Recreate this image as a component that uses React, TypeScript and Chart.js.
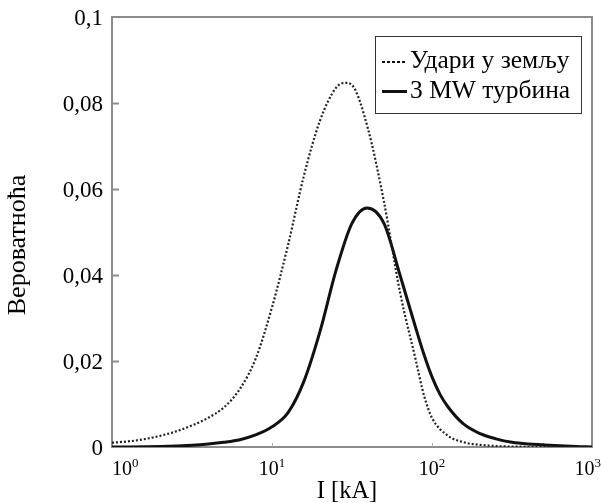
import React, { useEffect, useRef } from "react";
import { Chart, registerables } from "chart.js";

Chart.register(...registerables);

// Lightning peak current I [kA] and probability density
const strikeCurrent = [1, 1.26, 1.58, 2, 2.5, 3.16, 4, 5, 6.3, 7.9, 10, 12.6, 15.8, 20, 25.1, 28.8, 31.6, 39.8, 50.1, 63.1, 79.4, 89.1, 100, 126, 158, 200, 316, 1000];
const strikeProb = [0.001, 0.0013, 0.0018, 0.0026, 0.0036, 0.005, 0.0068, 0.0092, 0.0135, 0.0205, 0.0325, 0.047, 0.063, 0.076, 0.0835, 0.0847, 0.0842, 0.074, 0.057, 0.036, 0.02, 0.012, 0.0068, 0.0026, 0.0011, 0.0005, 0.0001, 0];

const turbineCurrent = [1, 2, 3.16, 4, 5, 6.3, 7.9, 10, 12.6, 15.8, 20, 25.1, 31.6, 39.3, 50.1, 63.1, 79.4, 89.1, 100, 112, 126, 158, 200, 251, 316, 398, 501, 631, 794, 1000];
const turbineProb = [0, 0.0001, 0.0004, 0.0007, 0.0011, 0.0017, 0.0028, 0.0047, 0.008, 0.0152, 0.027, 0.041, 0.052, 0.0556, 0.052, 0.04, 0.0275, 0.0215, 0.0163, 0.0123, 0.0093, 0.0053, 0.0031, 0.0019, 0.0011, 0.0007, 0.0005, 0.0003, 0.0001, 0];

const seriesNames = ["Удари у земљу", "3 MW турбина"];
const yTicks = [0, 0.02, 0.04, 0.06, 0.08, 0.1];
const yTickLabels = ["0", "0,02", "0,04", "0,06", "0,08", "0,1"];
const xTicks = [1, 10, 100, 1000];
const xTickExponents = ["0", "1", "2", "3"];
const xTitle = "I [kA]";
const yTitle = "Вероватноћа";

const SERIF = '"Liberation Serif", "Times New Roman", serif';
const AXIS_GRAY = "#8c8c8c";

const decorPlugin = {
  id: "decor",
  beforeDatasetsDraw(chart: any) {
    const { ctx, chartArea: a, scales } = chart;
    const x = scales.x;
    const y = scales.y;
    ctx.save();
    // plot frame
    ctx.strokeStyle = AXIS_GRAY;
    ctx.lineWidth = 2;
    ctx.strokeRect(a.left, a.top, a.right - a.left, a.bottom - a.top);
    // inward ticks on y
    ctx.beginPath();
    yTicks.forEach((v) => {
      if (v === 0 || v === 0.1) return;
      const py = Math.round(y.getPixelForValue(v)) + 0.5;
      ctx.moveTo(a.left, py);
      ctx.lineTo(a.left + 7, py);
    });
    ctx.stroke();
    // inward ticks on x
    ctx.lineWidth = 1;
    ctx.strokeStyle = "#b0b0b0";
    ctx.beginPath();
    xTicks.forEach((v) => {
      if (v === 1 || v === 1000) return;
      const px = Math.round(x.getPixelForValue(v)) + 0.5;
      ctx.moveTo(px, a.bottom);
      ctx.lineTo(px, a.bottom - 4);
    });
    ctx.stroke();
    ctx.restore();
  },
  afterDraw(chart: any) {
    const { ctx, chartArea: a, scales, width } = chart;
    const x = scales.x;
    const y = scales.y;
    ctx.save();
    ctx.fillStyle = "#000";

    // y tick labels
    ctx.font = `23px ${SERIF}`;
    ctx.textAlign = "right";
    ctx.textBaseline = "middle";
    yTicks.forEach((v, i) => {
      ctx.fillText(yTickLabels[i], a.left - 9, y.getPixelForValue(v) + 2);
    });

    // x tick labels as powers of ten
    ctx.textAlign = "left";
    ctx.textBaseline = "alphabetic";
    xTicks.forEach((v, i) => {
      ctx.font = `20px ${SERIF}`;
      const wBase = ctx.measureText("10").width;
      ctx.font = `13px ${SERIF}`;
      const wExp = ctx.measureText(xTickExponents[i]).width;
      const total = wBase + wExp;
      let left = x.getPixelForValue(v) - total / 2;
      if (left < a.left) left = a.left;
      if (left + total > width) left = width - total;
      ctx.font = `20px ${SERIF}`;
      ctx.fillText("10", left, 475);
      ctx.font = `13px ${SERIF}`;
      ctx.fillText(xTickExponents[i], left + wBase, 467);
    });

    // axis titles
    ctx.font = `24.5px ${SERIF}`;
    ctx.textAlign = "center";
    ctx.fillText(xTitle, 347, 498);
    ctx.save();
    ctx.translate(18, 245);
    ctx.rotate(-Math.PI / 2);
    ctx.textBaseline = "middle";
    ctx.font = `26px ${SERIF}`;
    ctx.fillText(yTitle, 0, 0);
    ctx.restore();

    // legend box
    const bx = 375.5, by = 36.5, bw = 206, bh = 77;
    ctx.fillStyle = "#fff";
    ctx.fillRect(bx, by, bw, bh);
    ctx.strokeStyle = "#333";
    ctx.lineWidth = 1;
    ctx.strokeRect(bx, by, bw, bh);

    ctx.strokeStyle = "#111";
    ctx.lineWidth = 2;
    ctx.setLineDash([3, 2]);
    ctx.beginPath();
    ctx.moveTo(382, 62);
    ctx.lineTo(407, 62);
    ctx.stroke();
    ctx.setLineDash([]);
    ctx.lineWidth = 3;
    ctx.beginPath();
    ctx.moveTo(382, 91.5);
    ctx.lineTo(407, 91.5);
    ctx.stroke();

    ctx.fillStyle = "#000";
    ctx.font = `25.5px ${SERIF}`;
    ctx.textAlign = "left";
    ctx.textBaseline = "alphabetic";
    ctx.fillText(seriesNames[0], 410, 68);
    ctx.fillText(seriesNames[1], 410, 98);
    ctx.restore();
  },
};

export default function App() {
  const canvasRef = useRef<HTMLCanvasElement | null>(null);

  useEffect(() => {
    document.body.style.margin = "0";
    const canvas = canvasRef.current;
    if (!canvas) return;
    const chart = new Chart(canvas, {
      type: "line",
      data: {
        datasets: [
          {
            label: seriesNames[0],
            data: strikeCurrent.map((c, i) => ({ x: c, y: strikeProb[i] })),
            borderColor: "#222",
            borderWidth: 2.2,
            borderDash: [2, 2],
            pointRadius: 0,
            cubicInterpolationMode: "monotone",
            fill: false,
          },
          {
            label: seriesNames[1],
            data: turbineCurrent.map((c, i) => ({ x: c, y: turbineProb[i] })),
            borderColor: "#111",
            borderWidth: 3,
            pointRadius: 0,
            cubicInterpolationMode: "monotone",
            fill: false,
          },
        ],
      },
      options: {
        animation: false,
        responsive: false,
        devicePixelRatio: 1,
        layout: { padding: { left: 112, right: 9, top: 17, bottom: 56 } },
        plugins: {
          legend: { display: false },
          tooltip: { enabled: false },
        },
        scales: {
          x: { type: "logarithmic", min: 1, max: 1000, display: false },
          y: { type: "linear", min: 0, max: 0.1, display: false },
        },
      },
      plugins: [decorPlugin],
    });
    return () => chart.destroy();
  }, []);

  return (
    <div style={{ width: 601, height: 503, background: "#fff" }}>
      <canvas ref={canvasRef} width={601} height={503} style={{ display: "block" }} />
    </div>
  );
}
